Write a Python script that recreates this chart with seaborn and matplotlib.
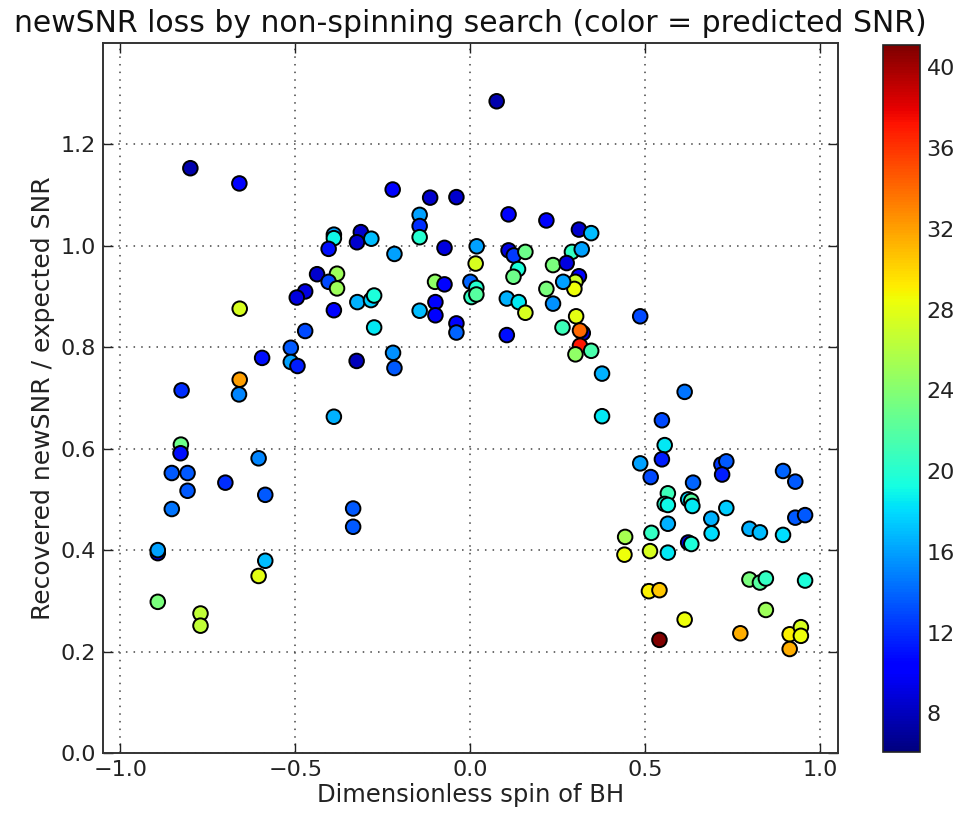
import matplotlib
matplotlib.use("Agg")
import matplotlib.pyplot as plt
import seaborn as sns
import pandas as pd
import numpy as np

spin = [-0.80, -0.66, -0.39, -0.39, -0.405, -0.313, -0.324, -0.283, -0.438, -0.381,
        -0.405, -0.381, -0.472, -0.496, -0.659, -0.39, -0.472, -0.513, -0.595, -0.513,
        -0.494, -0.325, -0.659, -0.661, -0.825, -0.39, -0.827, -0.828, -0.605, -0.853,
        -0.808, -0.70, -0.808, -0.586, -0.853, -0.335, -0.335, -0.893, -0.893, -0.586,
        -0.605, -0.893, -0.771, -0.771, 0.075, -0.222, -0.115, -0.04, -0.145, -0.145,
        -0.145, 0.109, 0.217, 0.31, 0.345, -0.217, -0.074, 0.018, 0.015, 0.109,
        0.124, 0.157, 0.136, 0.123, 0.236, 0.29, 0.318, 0.275, 0.31, 0.30,
        0.297, 0.217, 0.265, -0.101, -0.074, 0.0, 0.017, -0.323, -0.284, -0.275,
        -0.275, -0.145, -0.1, -0.1, -0.04, -0.04, 0.003, 0.017, 0.104, 0.138,
        0.157, 0.104, 0.236, 0.302, 0.263, 0.321, 0.313, 0.313, 0.30, 0.345,
        0.376, 0.376, -0.221, -0.217, 0.485, 0.612, 0.547, 0.555, 0.547, 0.485,
        0.515, 0.717, 0.731, 0.719, 0.636, 0.564, 0.555, 0.564, 0.622, 0.631,
        0.634, 0.731, 0.564, 0.688, 0.517, 0.442, 0.689, 0.893, 0.928, 0.928,
        0.956, 0.797, 0.827, 0.893, 0.622, 0.631, 0.440, 0.513, 0.564, 0.510,
        0.540, 0.797, 0.827, 0.844, 0.956, 0.844, 0.612, 0.540, 0.771, 0.912,
        0.944, 0.944, 0.912]

ratio = [1.153, 1.123, 1.022, 1.015, 0.994, 1.027, 1.007, 1.014, 0.944, 0.945,
         0.929, 0.916, 0.910, 0.898, 0.876, 0.873, 0.832, 0.799, 0.779, 0.771,
         0.763, 0.773, 0.736, 0.707, 0.715, 0.663, 0.608, 0.591, 0.581, 0.552,
         0.552, 0.533, 0.517, 0.509, 0.481, 0.482, 0.446, 0.394, 0.400, 0.379,
         0.349, 0.298, 0.275, 0.251, 1.285, 1.111, 1.095, 1.096, 1.061, 1.039,
         1.017, 1.062, 1.050, 1.032, 1.025, 0.984, 0.996, 0.999, 0.965, 0.991,
         0.981, 0.988, 0.954, 0.939, 0.962, 0.988, 0.993, 0.966, 0.940, 0.929,
         0.915, 0.915, 0.929, 0.929, 0.924, 0.929, 0.917, 0.889, 0.893, 0.902,
         0.839, 0.872, 0.889, 0.863, 0.847, 0.829, 0.899, 0.904, 0.896, 0.889,
         0.868, 0.824, 0.886, 0.861, 0.839, 0.828, 0.833, 0.803, 0.786, 0.793,
         0.748, 0.664, 0.789, 0.759, 0.861, 0.712, 0.656, 0.607, 0.579, 0.571,
         0.544, 0.569, 0.575, 0.549, 0.533, 0.512, 0.491, 0.489, 0.500, 0.497,
         0.487, 0.483, 0.452, 0.462, 0.434, 0.426, 0.433, 0.556, 0.535, 0.464,
         0.469, 0.442, 0.435, 0.430, 0.415, 0.412, 0.391, 0.398, 0.395, 0.319,
         0.321, 0.342, 0.336, 0.344, 0.340, 0.282, 0.263, 0.223, 0.236, 0.234,
         0.248, 0.231, 0.205]

snr = [7.5, 10.5, 16, 19, 11, 8.5, 8.5, 17, 8.5, 25,
       13, 25, 9, 9, 27.5, 10.5, 13, 13.5, 11, 16,
       11.5, 8, 32, 15, 12, 16.5, 23, 11, 15, 13.5,
       13.5, 12, 13.5, 13.5, 14.5, 13.5, 13.5, 9, 16, 17,
       28, 23.5, 26.5, 26.5, 7.5, 10.5, 8.5, 8.5, 16, 12,
       20, 10.5, 10.5, 8.5, 17, 16, 9, 16, 27.5, 9,
       12.5, 23, 19.5, 23, 23.5, 20.5, 16, 9, 10, 27,
       28.5, 23.5, 16, 24.5, 10.5, 14, 20, 16.5, 17.5, 19.5,
       18.5, 17, 10.5, 10, 10.5, 14, 20.5, 22, 16.5, 18.5,
       27.5, 11, 15.5, 28, 21, 8.5, 34, 37, 24.5, 21.5,
       16.5, 18.5, 15.5, 13.5, 13, 14.5, 13, 18.5, 11.5, 16,
       13, 12.5, 13.5, 11.5, 14, 21, 20, 19, 18, 22,
       18.5, 17.5, 16.5, 16.5, 20.5, 25.5, 18, 14, 13.5, 13.5,
       13.5, 16.5, 17, 18, 9, 19.5, 28.5, 27.5, 18.5, 29,
       30.5, 23.5, 22, 20.5, 19.5, 25, 28.5, 41, 31.5, 29,
       27.5, 28.5, 31.5]

xticks = [-1.0, -0.5, 0.0, 0.5, 1.0]
yticks = [0.0, 0.2, 0.4, 0.6, 0.8, 1.0, 1.2]
cbar_ticks = [8, 12, 16, 20, 24, 28, 32, 36, 40]
snr_min, snr_max = 6.1, 41.1

df = pd.DataFrame({"spin": spin, "ratio": ratio, "snr": snr})

sns.set_theme(style="white")
plt.rcParams['font.family'] = ['DejaVu Sans']

jet = matplotlib.colormaps["jet"]

fig = plt.figure(figsize=(9.61, 8.18), dpi=100)
ax = fig.add_axes([0.107, 0.0795, 0.765, 0.868])
cax = fig.add_axes([0.919, 0.081, 0.038, 0.864])

sns.scatterplot(data=df, x="spin", y="ratio", hue="snr", palette=jet,
                hue_norm=(snr_min, snr_max), s=110, edgecolor="black",
                linewidth=1.4, legend=False, ax=ax, zorder=3)

ax.set_xlim(-1.05, 1.05)
ax.set_ylim(0.0, 1.4)
ax.set_xticks(xticks)
ax.set_yticks(yticks)
ax.grid(True, linestyle=(0, (1, 4)), color="#444444", linewidth=1.1)
ax.tick_params(direction="in", length=7, width=1, labelsize=16, colors="#222222",
               top=True, right=True, bottom=True, left=True, pad=5)
for sp in ax.spines.values():
    sp.set_color("#333333")
    sp.set_linewidth(1.4)
ax.set_xlabel("Dimensionless spin of BH", fontsize=17.5, color="#222222", labelpad=2)
ax.set_ylabel("Recovered newSNR / expected SNR", fontsize=18, color="#222222", labelpad=4)
ax.set_title("newSNR loss by non-spinning search (color = predicted SNR)",
             fontsize=21.5, color="#111111", pad=8)

sm = plt.cm.ScalarMappable(cmap=jet, norm=plt.Normalize(snr_min, snr_max))
cb = fig.colorbar(sm, cax=cax)
cb.set_ticks(cbar_ticks)
cb.ax.tick_params(direction="in", length=9, labelsize=16, colors="#222222", pad=5)
cb.outline.set_linewidth(1.2)
cb.outline.set_edgecolor("#222222")

fig.savefig("out.png", dpi=100)
